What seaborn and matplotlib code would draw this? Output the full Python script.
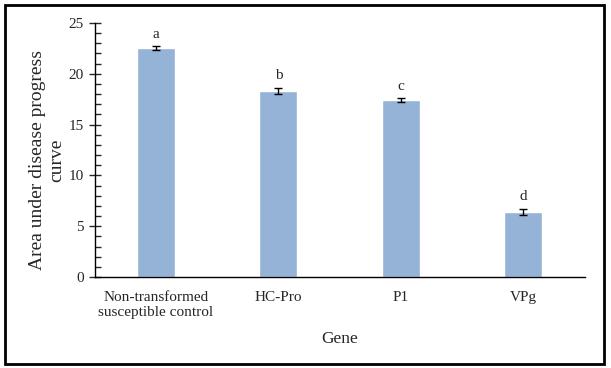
import numpy as np
import pandas as pd
import matplotlib
matplotlib.use("Agg")
import matplotlib.pyplot as plt
from matplotlib.ticker import MultipleLocator
from matplotlib.patches import Rectangle
import seaborn as sns

genes = ["Non-transformed\nsusceptible control", "HC-Pro", "P1", "VPg"]
audpc = [22.5, 18.3, 17.4, 6.4]
errors = [0.2, 0.3, 0.2, 0.3]
letters = ["a", "b", "c", "d"]

df = pd.DataFrame({"gene": genes, "audpc": audpc, "err": errors, "letter": letters})

sns.set_style("white")
plt.rcParams['font.family'] = ['Liberation Serif', 'DejaVu Serif']

fig = plt.figure(figsize=(6.11, 3.68), dpi=100)
ax = fig.add_axes([0.155, 0.247, 0.802, 0.691])

sns.barplot(data=df, x="gene", y="audpc", color="#95B3D7", width=0.31,
            saturation=1, errorbar=None, ax=ax)
ax.errorbar(range(len(genes)), df["audpc"], yerr=df["err"], fmt="none",
            ecolor="black", elinewidth=1, capsize=3, capthick=1)

for i, row in df.iterrows():
    ax.annotate(row["letter"], (i, row["audpc"] + row["err"]),
                xytext=(0, 4), textcoords="offset points",
                ha="center", va="bottom", fontsize=11)

ax.set_ylim(0, 25)
ax.set_xlim(-0.5, 3.5)
ax.yaxis.set_major_locator(MultipleLocator(5))
ax.yaxis.set_minor_locator(MultipleLocator(1))
ax.tick_params(axis="y", which="major", direction="inout", length=8, width=1,
               labelsize=11, left=True, pad=4)
ax.tick_params(axis="y", which="minor", direction="in", length=4, width=1, left=True)
ax.tick_params(axis="x", length=0, labelsize=11, pad=10)

for s in ["top", "right"]:
    ax.spines[s].set_visible(False)
for s in ["left", "bottom"]:
    ax.spines[s].set_color("black")
    ax.spines[s].set_linewidth(1)

ax.set_xlabel("Gene", fontsize=12.5, labelpad=9)
ax.set_ylabel("Area under disease progress\ncurve", fontsize=14, linespacing=1.15)
ax.yaxis.set_label_coords(-0.06, 0.46)

fig.patches.append(Rectangle((0.008, 0.011), 0.98, 0.976, transform=fig.transFigure,
                             fill=False, edgecolor="black", linewidth=2))

fig.savefig("out.png", dpi=100)
